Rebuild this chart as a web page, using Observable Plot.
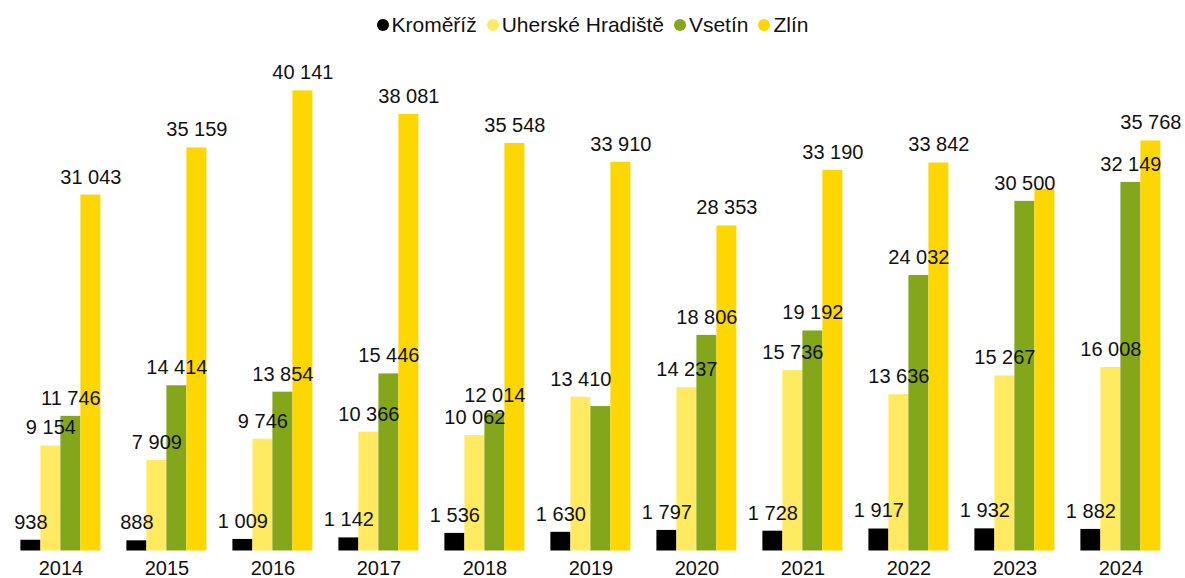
<!DOCTYPE html>
<html>
<head>
<meta charset="utf-8">
<script src="https://cdn.jsdelivr.net/npm/d3@7"></script>
<script src="https://cdn.jsdelivr.net/npm/@observablehq/plot@0.6"></script>
<style>
  html, body { margin: 0; padding: 0; background: #fff; }
  body { width: 1185px; height: 578px; overflow: hidden; font-family: "Liberation Sans", Arial, sans-serif; }
  #legend { height: 44px; box-sizing: border-box; padding-top: 4px; display: flex; justify-content: center; font-size: 21px; line-height: 21px; color: #111; }
  #legend .item { display: flex; align-items: center; margin: 0 5px; }
  #legend .dot { width: 12px; height: 12px; border-radius: 50%; margin-right: 3px; margin-top: 2px; }
</style>
</head>
<body>
<div id="legend"></div>
<div id="chart"></div>
<script>
const years = [2014, 2015, 2016, 2017, 2018, 2019, 2020, 2021, 2022, 2023, 2024];
const seriesNames = ["Kroměříž", "Uherské Hradiště", "Vsetín", "Zlín"];
const seriesColors = ["#000000", "#FFEA62", "#84A61A", "#FFD700"];
const kromeriz = [938, 888, 1009, 1142, 1536, 1630, 1797, 1728, 1917, 1932, 1882];
const uherskeHradiste = [9154, 7909, 9746, 10366, 10062, 13410, 14237, 15736, 13636, 15267, 16008];
const vsetin = [11746, 14414, 13854, 15446, 12014, 12600, 18806, 19192, 24032, 30500, 32149];
const zlin = [31043, 35159, 40141, 38081, 35548, 33910, 28353, 33190, 33842, 31550, 35768];
// labels not shown in the reference
const hiddenLabels = [["Vsetín", 2019], ["Zlín", 2023]];

const seriesValues = [kromeriz, uherskeHradiste, vsetin, zlin];
const data = [];
years.forEach((y, i) => {
  seriesNames.forEach((s, j) => {
    data.push({year: y, series: s, value: seriesValues[j][i]});
  });
});
const labelData = data.filter(d => !hiddenLabels.some(([s, y]) => s === d.series && y === d.year));
const fmt = v => String(v).replace(/\B(?=(\d{3})+(?!\d))/g, " ");

// legend
const legend = document.getElementById("legend");
seriesNames.forEach((s, j) => {
  const item = document.createElement("div");
  item.className = "item";
  const dot = document.createElement("span");
  dot.className = "dot";
  dot.style.background = seriesColors[j];
  const label = document.createElement("span");
  label.textContent = s;
  item.appendChild(dot);
  item.appendChild(label);
  legend.appendChild(item);
});

const chart = Plot.plot({
  width: 1185,
  height: 534,
  marginTop: 25,
  marginBottom: 27.5,
  marginLeft: 6.6,
  marginRight: 11,
  style: {fontFamily: "\"Liberation Sans\", Arial, sans-serif", fontSize: "20px", color: "#111", background: "#fff"},
  fx: {domain: years, paddingInner: 0.214, paddingOuter: 0.107, label: null, tickSize: 0, tickPadding: 10, tickFormat: d => String(d)},
  x: {domain: seriesNames, padding: 0, axis: null},
  y: {domain: [0, 42000], axis: null},
  color: {domain: seriesNames, range: seriesColors},
  marks: [
    Plot.barY(data, {fx: "year", x: "series", y: "value", fill: "series"}),
    Plot.text(labelData, {fx: "year", x: "series", y: "value", text: d => fmt(d.value), dy: -18, fontSize: 20, fill: "#111"})
  ]
});
document.getElementById("chart").appendChild(chart);
</script>
</body>
</html>
